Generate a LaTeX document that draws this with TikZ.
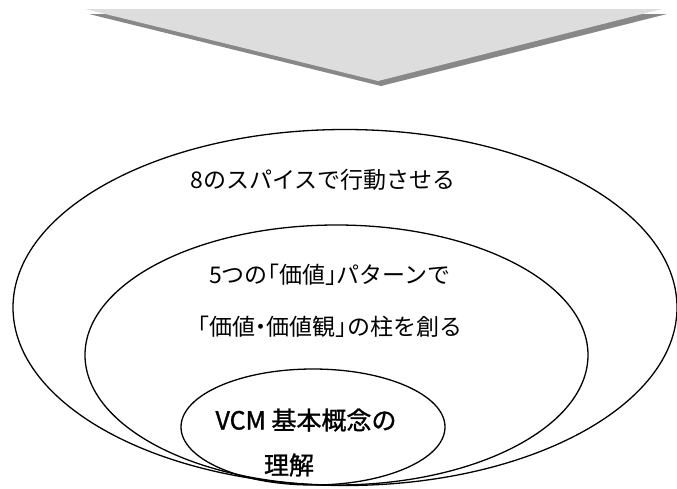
\documentclass[tikz,border=0pt]{standalone}
\usepackage{fontspec}
\setmainfont{Noto Sans CJK JP}
\newfontfamily\jpbold[FakeBold=1.2]{Noto Sans CJK JP}
\definecolor{arrowlight}{HTML}{DDDDDD}
\definecolor{arrowshade}{HTML}{888888}
\newcommand\lbrk{\makebox[0.5em][r]{「}}
\newcommand\rbrk{\makebox[0.5em][l]{」}}
\newcommand\nakaguro{\makebox[0.5em][c]{・}}
\begin{document}
\begin{tikzpicture}[x=1pt,y=-1pt,
  ring/.style={draw=black,line width=1.3pt},
  label/.style={font=\fontsize{23}{27}\selectfont,inner sep=0pt,anchor=center},
  innerlabel/.style={font=\jpbold\fontsize{25}{29}\selectfont,inner sep=0pt,anchor=center}]
\useasboundingbox (0,0) rectangle (677,488);
% arrow
\coordinate (sl) at (89,14);
\coordinate (sr) at (667,14);
\coordinate (sa) at (381,86);
\coordinate (al) at (85,9);
\coordinate (ar) at (662,9);
\coordinate (aa) at (378,81);
\fill[arrowshade] (sl) -- (sr) -- (sa) -- cycle;
\fill[arrowlight] (al) -- (ar) -- (aa) -- cycle;
% ellipses
\draw[ring] (345,307.5) ellipse [x radius=332, y radius=178];
\draw[ring] (336.5,355) ellipse [x radius=251.5, y radius=130];
\draw[ring] (313,427) ellipse [x radius=132, y radius=58];
% texts
\node[label] (t1) at (323,180) {8のスパイスで行動させる};
\node[label] (t2) at (330,275) {5つの\lbrk 価値\rbrk パターンで};
\node[label] (t3) at (330,327) {\lbrk 価値\nakaguro 価値観\rbrk の柱を創る};
\node[innerlabel] (t4) at (306,420) {VCM 基本概念の};
\node[innerlabel] (t5) at (289,465) {理解};
\end{tikzpicture}
\end{document}
